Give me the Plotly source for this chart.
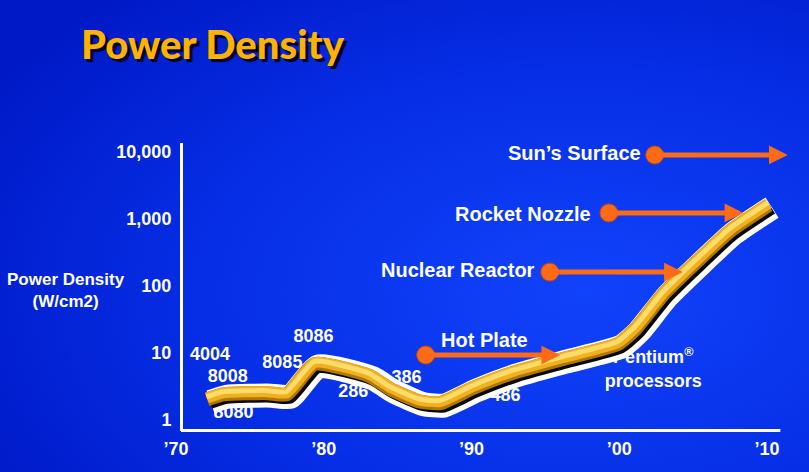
import base64
import numpy as np
import plotly.graph_objects as go

# ---------------- data ----------------
years = [1972.1, 1973.2, 1976.2, 1977.5, 1979.4, 1983.1, 1984.5, 1986.5, 1987.9,
         1990.1, 1992.8, 1996.2, 1999.9, 2001.1, 2003.0, 2005.3, 2007.5, 2010.1]
power = [2.1, 2.5, 2.6, 2.5, 7.1, 4.7, 3.0, 1.95, 1.85,
         3.1, 5.2, 8.4, 14, 23.5, 78, 243, 680, 1650]

chips = ["4004", "8008", "8080", "8085", "8086", "286", "386", "486",
         "Pentium<sup>®</sup><br>processors"]
chip_label_x = [1972.3, 1973.5, 1973.9, 1977.2, 1979.3, 1982.0, 1985.6, 1992.3, 2002.3]
chip_label_y = [9.0, 4.37, 1.27, 6.95, 17, 2.57, 4.15, 2.24, 5.5]

hazards = ["Hot Plate", "Nuclear Reactor", "Rocket Nozzle", "Sun’s Surface"]
hazard_level = [9.3, 160, 1220, 8900]
arrow_start = [1986.9, 1995.3, 1999.3, 2002.4]
arrow_end = [1996.0, 2004.3, 2008.4, 2011.4]
hazard_label_x = [1990.85, 1994.4, 1998.2, 2001.6]
hazard_label_y = [15.6, 172, 1195, 9370]
hazard_anchor = ["center", "right", "right", "right"]

x_tick_vals = [1970, 1980, 1990, 2000, 2010]
x_tick_text = ["’70", "’80", "’90", "’00", "’10"]
y_tick_vals = [1, 10, 100, 1000, 10000]
y_tick_text = ["1", "10", "100", "1,000", "10,000"]

# ---------------- layout geometry ----------------
W, H = 809, 472
X_RANGE = [1958.09, 2012.84]
Y_RANGE = [-0.1565, 4.128]
Y_DOMAIN = [1 - 430.5 / H, 1 - 143 / H]
PX_PER_YEAR = W / (X_RANGE[1] - X_RANGE[0])
PX_PER_DEC = (Y_DOMAIN[1] - Y_DOMAIN[0]) * H / (Y_RANGE[1] - Y_RANGE[0])
FONT = "Arial, Liberation Sans, sans-serif"
ORANGE = "#FF6A17"


def shift(xs, ys, dx, dy):
    xs = np.array(xs, dtype=float) + dx / PX_PER_YEAR
    ys = np.array(ys, dtype=float) * 10 ** (-dy / PX_PER_DEC)
    return xs, ys


svg = (f"<svg xmlns='http://www.w3.org/2000/svg' width='{W}' height='{H}'>"
       "<defs><radialGradient id='g' cx='0.72' cy='0.62' r='0.85'>"
       "<stop offset='0' stop-color='#1143FA'/>"
       "<stop offset='0.55' stop-color='#062EE6'/>"
       "<stop offset='1' stop-color='#0019C6'/>"
       "</radialGradient></defs>"
       "<rect width='100%' height='100%' fill='url(#g)'/></svg>")
bg_uri = "data:image/svg+xml;base64," + base64.b64encode(svg.encode()).decode()

fig = go.Figure()

# chip labels (beneath the line, as in the original)
fig.add_trace(go.Scatter(
    x=chip_label_x, y=chip_label_y, mode="text", text=chips,
    textfont=dict(family=FONT, size=18, color="white", weight="bold"),
    textposition="middle center", hoverinfo="skip", cliponaxis=False))

line_kw = dict(mode="lines", line_shape="spline", hoverinfo="skip")
layers = [  # (dx px, dy px, colour, width)
    (3.5, 3.5, "white", 24),
    (3.0, 4.0, "#080808", 13),
    (0.0, 1.0, "#B07800", 14),
    (0.0, -0.5, "#F0B020", 11),
    (-0.5, -1.5, "#FFDC6A", 5),
]
for dx, dy, col, w in layers:
    sx, sy = shift(years, power, dx, dy)
    fig.add_trace(go.Scatter(x=sx, y=sy, line=dict(color=col, width=w, smoothing=0.5), **line_kw))

# hazard dots
fig.add_trace(go.Scatter(
    x=arrow_start, y=hazard_level, mode="markers",
    marker=dict(size=18, color=ORANGE, line=dict(color="#C84A00", width=1)),
    hoverinfo="skip", cliponaxis=False))

# hazard labels
for name, lx, ly, anc in zip(hazards, hazard_label_x, hazard_label_y, hazard_anchor):
    fig.add_annotation(x=lx, y=np.log10(ly), xref="x", yref="y", text=name,
                       showarrow=False, xanchor=anc, yanchor="middle",
                       font=dict(family=FONT, size=20, color="white", weight="bold"))

# hazard arrows
for lv, x0, x1 in zip(hazard_level, arrow_start, arrow_end):
    fig.add_annotation(x=x1, y=np.log10(lv), ax=x0, ay=np.log10(lv),
                       xref="x", yref="y", axref="x", ayref="y", text="",
                       showarrow=True, arrowhead=2, arrowsize=0.75,
                       arrowwidth=5, arrowcolor=ORANGE, standoff=0)

# x axis line
fig.add_shape(type="line", xref="x", yref="y domain", x0=1970.34, x1=2010.9, y0=0, y1=0,
              line=dict(color="white", width=3), layer="above")

# title
fig.add_annotation(x=213 / W, y=1 - 44 / H, xref="paper", yref="paper",
                   text="Power Density", showarrow=False, xanchor="center", yanchor="middle",
                   font=dict(family="Lato, Roboto, Arial", size=40, color="#FFB300", weight=900,
                             shadow="3px 3px 1px #000028"))

# y axis title
fig.add_annotation(x=66 / W, y=1 - 290 / H, xref="paper", yref="paper",
                   text="Power Density<br>(W/cm2)", showarrow=False,
                   xanchor="center", yanchor="middle",
                   font=dict(family=FONT, size=17, color="white", weight="bold"))

fig.update_layout(
    width=W, height=H, margin=dict(l=0, r=0, t=0, b=0),
    paper_bgcolor="#0628E0", plot_bgcolor="rgba(0,0,0,0)",
    showlegend=False,
    images=[dict(source=bg_uri, xref="paper", yref="paper", x=0, y=1,
                 sizex=1, sizey=1, sizing="stretch", layer="below", xanchor="left", yanchor="top")],
    xaxis=dict(range=X_RANGE, domain=[0, 1], showgrid=False, zeroline=False, showline=False,
               tickvals=x_tick_vals, ticktext=x_tick_text, ticks="", ticklabelstandoff=5,
               tickfont=dict(family=FONT, size=18, color="white", weight="bold")),
    yaxis=dict(type="log", range=Y_RANGE, domain=Y_DOMAIN, anchor="free", position=181 / W,
               showgrid=False, zeroline=False, showline=True, linecolor="white", linewidth=3,
               tickvals=y_tick_vals, ticktext=y_tick_text, ticks="", ticklabelstandoff=5,
               tickfont=dict(family=FONT, size=18, color="white", weight="bold")),
)

fig.write_html("out.html")
